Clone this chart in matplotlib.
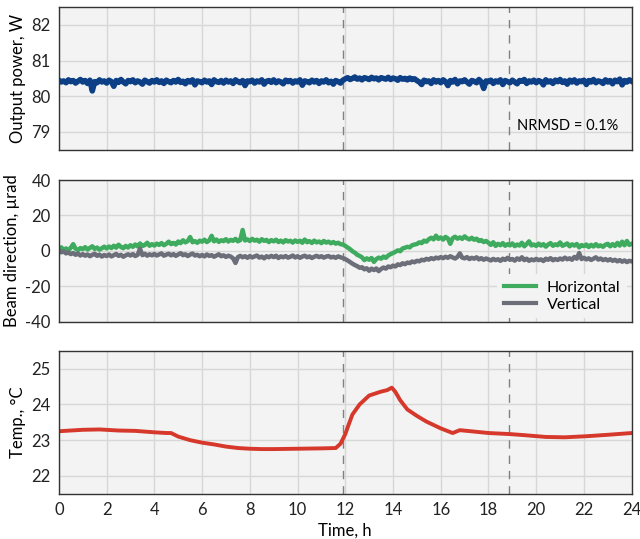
import matplotlib
matplotlib.use("Agg")
import matplotlib.pyplot as plt
import numpy as np

plt.rcParams["font.family"] = ["Lato", "DejaVu Sans"]
plt.rcParams["font.size"] = 12

# time base for the sampled traces (h), one row per hour below
hours = np.linspace(0, 24, 241)

power_w = [
    80.45, 80.40, 80.43, 80.38, 80.46, 80.41, 80.44, 80.37, 80.42, 80.47,
    80.40, 80.44, 80.36, 80.45, 80.15, 80.41, 80.38, 80.46, 80.40, 80.43,
    80.37, 80.45, 80.41, 80.28, 80.44, 80.39, 80.47, 80.40, 80.35, 80.44,
    80.41, 80.46, 80.38, 80.43, 80.40, 80.34, 80.45, 80.41, 80.37, 80.44,
    80.40, 80.46, 80.39, 80.43, 80.36, 80.45, 80.41, 80.38, 80.44, 80.40,
    80.47, 80.39, 80.42, 80.35, 80.44, 80.40, 80.46, 80.32, 80.43, 80.41,
    80.38, 80.45, 80.40, 80.43, 80.33, 80.46, 80.41, 80.39, 80.44, 80.37,
    80.45, 80.40, 80.43, 80.36, 80.46, 80.41, 80.38, 80.44, 80.30, 80.43,
    80.41, 80.45, 80.37, 80.43, 80.40, 80.46, 80.34, 80.42, 80.44, 80.39,
    80.46, 80.38, 80.43, 80.40, 80.35, 80.45, 80.41, 80.44, 80.37, 80.43,
    80.40, 80.46, 80.31, 80.43, 80.41, 80.38, 80.45, 80.40, 80.44, 80.36,
    80.43, 80.40, 80.46, 80.38, 80.42, 80.34, 80.44, 80.41, 80.37, 80.45,
    80.49, 80.52, 80.47, 80.50, 80.54, 80.48, 80.51, 80.46, 80.52, 80.50,
    80.47, 80.53, 80.49, 80.51, 80.46, 80.52, 80.50, 80.48, 80.53, 80.47,
    80.51, 80.49, 80.45, 80.52, 80.48, 80.50, 80.46, 80.51, 80.47, 80.49,
    80.44, 80.40, 80.33, 80.45, 80.41, 80.43, 80.36, 80.46, 80.40, 80.44,
    80.38, 80.46, 80.41, 80.30, 80.44, 80.40, 80.47, 80.35, 80.43, 80.41,
    80.46, 80.40, 80.34, 80.44, 80.42, 80.38, 80.47, 80.40, 80.22, 80.43,
    80.41, 80.45, 80.36, 80.43, 80.40, 80.46, 80.33, 80.44, 80.41, 80.38,
    80.45, 80.40, 80.35, 80.44, 80.42, 80.47, 80.36, 80.43, 80.40, 80.45,
    80.38, 80.44, 80.41, 80.32, 80.46, 80.40, 80.43, 80.36, 80.45, 80.41,
    80.47, 80.39, 80.43, 80.34, 80.45, 80.40, 80.46, 80.37, 80.43, 80.41,
    80.45, 80.33, 80.44, 80.40, 80.47, 80.38, 80.43, 80.41, 80.36, 80.46,
    80.40, 80.44, 80.35, 80.45, 80.41, 80.48, 80.32, 80.44, 80.40, 80.46,
    80.42,
]

beam_horizontal = [
    1.0, 2.0, 0.6, 1.4, 0.3, 1.8, 3.8, 1.2, 0.5, 1.6,
    1.0, 2.1, 0.8, 1.7, 2.6, 1.1, 1.9, 0.7, 1.5, 2.4,
    1.4, 2.5, 1.6, 2.9, 1.8, 3.5, 2.2, 1.5, 2.8, 1.9,
    3.2, 2.3, 3.6, 2.5, 4.2, 2.8, 3.3, 4.6, 2.9, 3.8,
    3.0, 4.1, 3.4, 4.4, 3.2, 4.0, 5.2, 3.8, 4.5, 3.6,
    5.3, 4.4, 6.0, 4.8, 5.6, 7.8, 4.9, 5.5, 4.6, 5.8,
    5.2, 6.3, 5.0, 5.9, 8.5, 5.4, 6.4, 5.1, 6.0, 5.5,
    6.6, 5.3, 6.2, 5.7, 6.8, 5.4, 6.1, 11.8, 5.9, 6.5,
    5.6, 6.8, 5.8, 6.3, 5.2, 6.6, 5.7, 6.2, 5.0, 6.1,
    5.4, 6.3, 5.0, 5.8, 4.8, 6.1, 5.3, 5.7, 4.7, 5.9,
    5.1, 5.7, 4.6, 6.4, 4.9, 5.5, 4.5, 5.8, 4.8, 5.3,
    4.4, 5.6, 4.7, 5.2, 4.3, 5.0, 4.1, 4.6, 3.8, 3.6,
    2.8, 1.9, 1.0, -0.2, -1.0, -2.2, -2.8, -3.6, -5.2, -4.2,
    -5.0, -4.0, -6.2, -4.6, -3.8, -4.4, -3.2, -3.9, -2.6, -1.8,
    -1.2, -0.5, 0.3, -0.2, 1.4, 1.8, 2.3, 2.0, 3.2, 3.6,
    3.9, 4.8, 4.4, 5.8, 5.2, 6.6, 7.4, 6.5, 8.6, 6.8,
    7.6, 6.4, 7.9, 7.0, 4.0, 7.2, 8.0, 6.9, 7.6, 6.8,
    8.2, 7.1, 6.5, 7.4, 6.3, 6.9, 5.6, 6.1, 5.0, 5.6,
    4.6, 3.4, 4.9, 2.8, 4.0, 3.2, 4.4, 2.9, 3.8, 3.1,
    4.2, 2.7, 3.6, 3.0, 4.6, 2.6, 3.9, 5.4, 3.1, 3.6,
    2.8, 4.1, 3.0, 3.8, 2.4, 3.6, 4.4, 2.9, 3.7, 3.2,
    4.8, 2.9, 3.5, 4.2, 2.6, 3.7, 3.0, 3.9, 2.0, 3.3,
    2.7, 3.6, 2.2, 3.4, 2.5, 3.8, 2.6, 3.1, 2.3, 3.5,
    4.0, 2.6, 3.8, 2.8, 4.5, 3.0, 5.2, 3.2, 5.6, 3.4,
    4.0,
]

beam_vertical = [
    0.2, -0.8, -0.3, -1.4, -0.9, -1.8, -1.2, -2.2, -1.5, -2.6,
    -1.8, -2.7, -2.0, -3.0, -2.2, -1.6, -2.8, -2.1, -3.2, -2.3,
    -2.9, -2.0, -3.1, -2.4, -1.7, -2.8, -2.2, -3.3, -2.5, -1.9,
    -2.6, -1.8, -2.9, -2.2, 1.2, -2.4, -1.6, -2.7, -1.9, -2.5,
    -1.7, -2.6, -2.0, -1.4, -2.7, -2.1, -1.6, -2.5, -1.8, -2.8,
    -2.0, -1.3, -2.4, -1.9, -2.9, -2.1, -1.5, -2.6, -2.2, -3.0,
    -2.3, -3.1, -2.0, -2.8, -2.4, -3.3, -2.6, -1.9, -3.0, -2.5,
    -3.4, -2.7, -3.2, -4.2, -6.8, -3.5, -2.8, -3.6, -3.0, -3.9,
    -2.9, -3.7, -3.1, -2.6, -3.8, -3.2, -4.2, -3.0, -3.6, -2.8,
    -3.5, -2.7, -4.0, -3.1, -3.6, -2.9, -3.8, -3.3, -2.6, -3.7,
    -3.0, -3.9, -3.2, -2.7, -3.6, -3.1, -4.0, -3.3, -2.8, -3.5,
    -3.0, -3.8, -3.2, -2.9, -3.7, -3.3, -3.9, -3.1, -3.6, -4.0,
    -4.6, -5.4, -6.3, -7.2, -8.0, -8.6, -9.5, -9.2, -10.4, -9.8,
    -11.2, -10.0, -10.8, -9.9, -11.4, -10.2, -9.4, -10.0, -8.8, -9.2,
    -8.3, -8.8, -7.6, -8.0, -7.0, -7.5, -6.6, -6.9, -6.0, -6.4,
    -5.6, -5.9, -5.0, -5.3, -4.5, -4.9, -4.1, -4.6, -3.8, -4.2,
    -3.5, -4.1, -3.3, -3.9, -3.0, -3.7, -4.3, -3.4, -1.4, -3.8,
    -4.2, -3.5, -4.6, -3.9, -4.4, -3.6, -4.8, -4.1, -5.0, -4.3,
    -4.8, -5.4, -4.5, -5.2, -4.7, -5.6, -4.4, -5.1, -3.9, -5.0,
    -4.6, -5.5, -4.2, -5.0, -3.6, -5.2, -4.4, -5.6, -4.8, -5.3,
    -4.5, -5.2, -4.8, -5.7, -4.4, -5.0, -4.1, -5.3, -4.6, -5.1,
    -4.3, -4.9, -3.8, -4.7, -4.2, -5.0, -3.4, -4.4, -1.2, -4.6,
    -3.9, -4.8, -4.2, -5.1, -4.4, -3.6, -4.9, -4.3, -5.2, -4.6,
    -5.4, -4.7, -5.6, -5.0, -5.9, -5.2, -6.1, -5.4, -6.3, -5.6,
    -5.9,
]

temp_hours = [
    0, 0.5, 1, 1.7, 2.5, 3.2, 4.0, 4.5, 4.7, 5.0,
    5.5, 6.0, 6.5, 7.0, 7.5, 8.0, 8.5, 9.0, 10.0, 11.0,
    11.6, 11.8, 12.0, 12.15, 12.3, 12.6, 13.0, 13.5, 13.75, 13.95,
    14.1, 14.3, 14.6, 15.0, 15.4, 16.0, 16.5, 16.8, 17.4, 18.0,
    18.9, 19.5, 20.4, 21.2, 22.1, 23.0, 24.0,
]
temp_c = [
    23.25, 23.27, 23.29, 23.30, 23.27, 23.26, 23.22, 23.20, 23.20, 23.10,
    23.00, 22.93, 22.88, 22.82, 22.78, 22.76, 22.75, 22.75, 22.76, 22.77,
    22.78, 22.90, 23.17, 23.45, 23.72, 24.00, 24.25, 24.36, 24.40, 24.47,
    24.35, 24.12, 23.86, 23.68, 23.52, 23.33, 23.20, 23.28, 23.24, 23.20,
    23.17, 23.14, 23.09, 23.08, 23.11, 23.15, 23.20,
]

event_hours = [11.9, 18.85]

BG = "#f2f3f2"


def style(ax, ylim, yticks):
    ax.set_facecolor(BG)
    ax.set_xlim(0, 24)
    ax.set_xticks(np.arange(0, 25, 2))
    ax.set_ylim(*ylim)
    ax.set_yticks(yticks)
    ax.grid(True, color="#d6d8d6", linewidth=1)
    ax.set_axisbelow(True)
    ax.tick_params(length=0, pad=6, labelcolor="#222222")
    for s in ax.spines.values():
        s.set_color("#333333")
        s.set_linewidth(1)
    for h in event_hours:
        ax.axvline(h, color="#808080", linestyle=(0, (6, 5)), linewidth=1)


fig = plt.figure(figsize=(6.4, 5.39), dpi=100)
ax1 = fig.add_axes([0.092, 0.722, 0.895, 0.265])
ax2 = fig.add_axes([0.092, 0.403, 0.895, 0.263])
ax3 = fig.add_axes([0.092, 0.084, 0.895, 0.265])

style(ax1, (78.5, 82.5), [79, 80, 81, 82])
ax1.plot(hours, power_w, color="#0c3f85", linewidth=4)
ax1.set_ylabel("Output power, W")
ax1.tick_params(labelbottom=False)
ax1.text(0.977, 0.17, "NRMSD = 0.1%", transform=ax1.transAxes,
         ha="right", va="center", fontsize=10.5)

style(ax2, (-40, 40), [-40, -20, 0, 20, 40])
ax2.plot(hours, beam_horizontal, color="#3fab5e", linewidth=3.2, label="Horizontal")
ax2.plot(hours, beam_vertical, color="#6c6f79", linewidth=3.2, label="Vertical")
ax2.set_ylabel("Beam direction, µrad")
ax2.set_yticklabels(["-40", "-20", "0", "20", "40"])
ax2.tick_params(labelbottom=False)
leg = ax2.legend(loc="lower right", bbox_to_anchor=(1.0, -0.01),
                 borderaxespad=0.3, handlelength=2.0, handletextpad=0.7,
                 labelspacing=0.2, fontsize=11.5, frameon=True,
                 facecolor=BG, edgecolor="none", framealpha=1)
for line in leg.get_lines():
    line.set_linewidth(3)

style(ax3, (21.5, 25.5), [22, 23, 24, 25])
ax3.plot(temp_hours, temp_c, color="#d6382b", linewidth=2.8)
ax3.set_ylabel("Temp., °C")
ax3.set_xlabel("Time, h", labelpad=3)

fig.align_ylabels([ax1, ax2, ax3])
fig.savefig("out.png", dpi=100)
